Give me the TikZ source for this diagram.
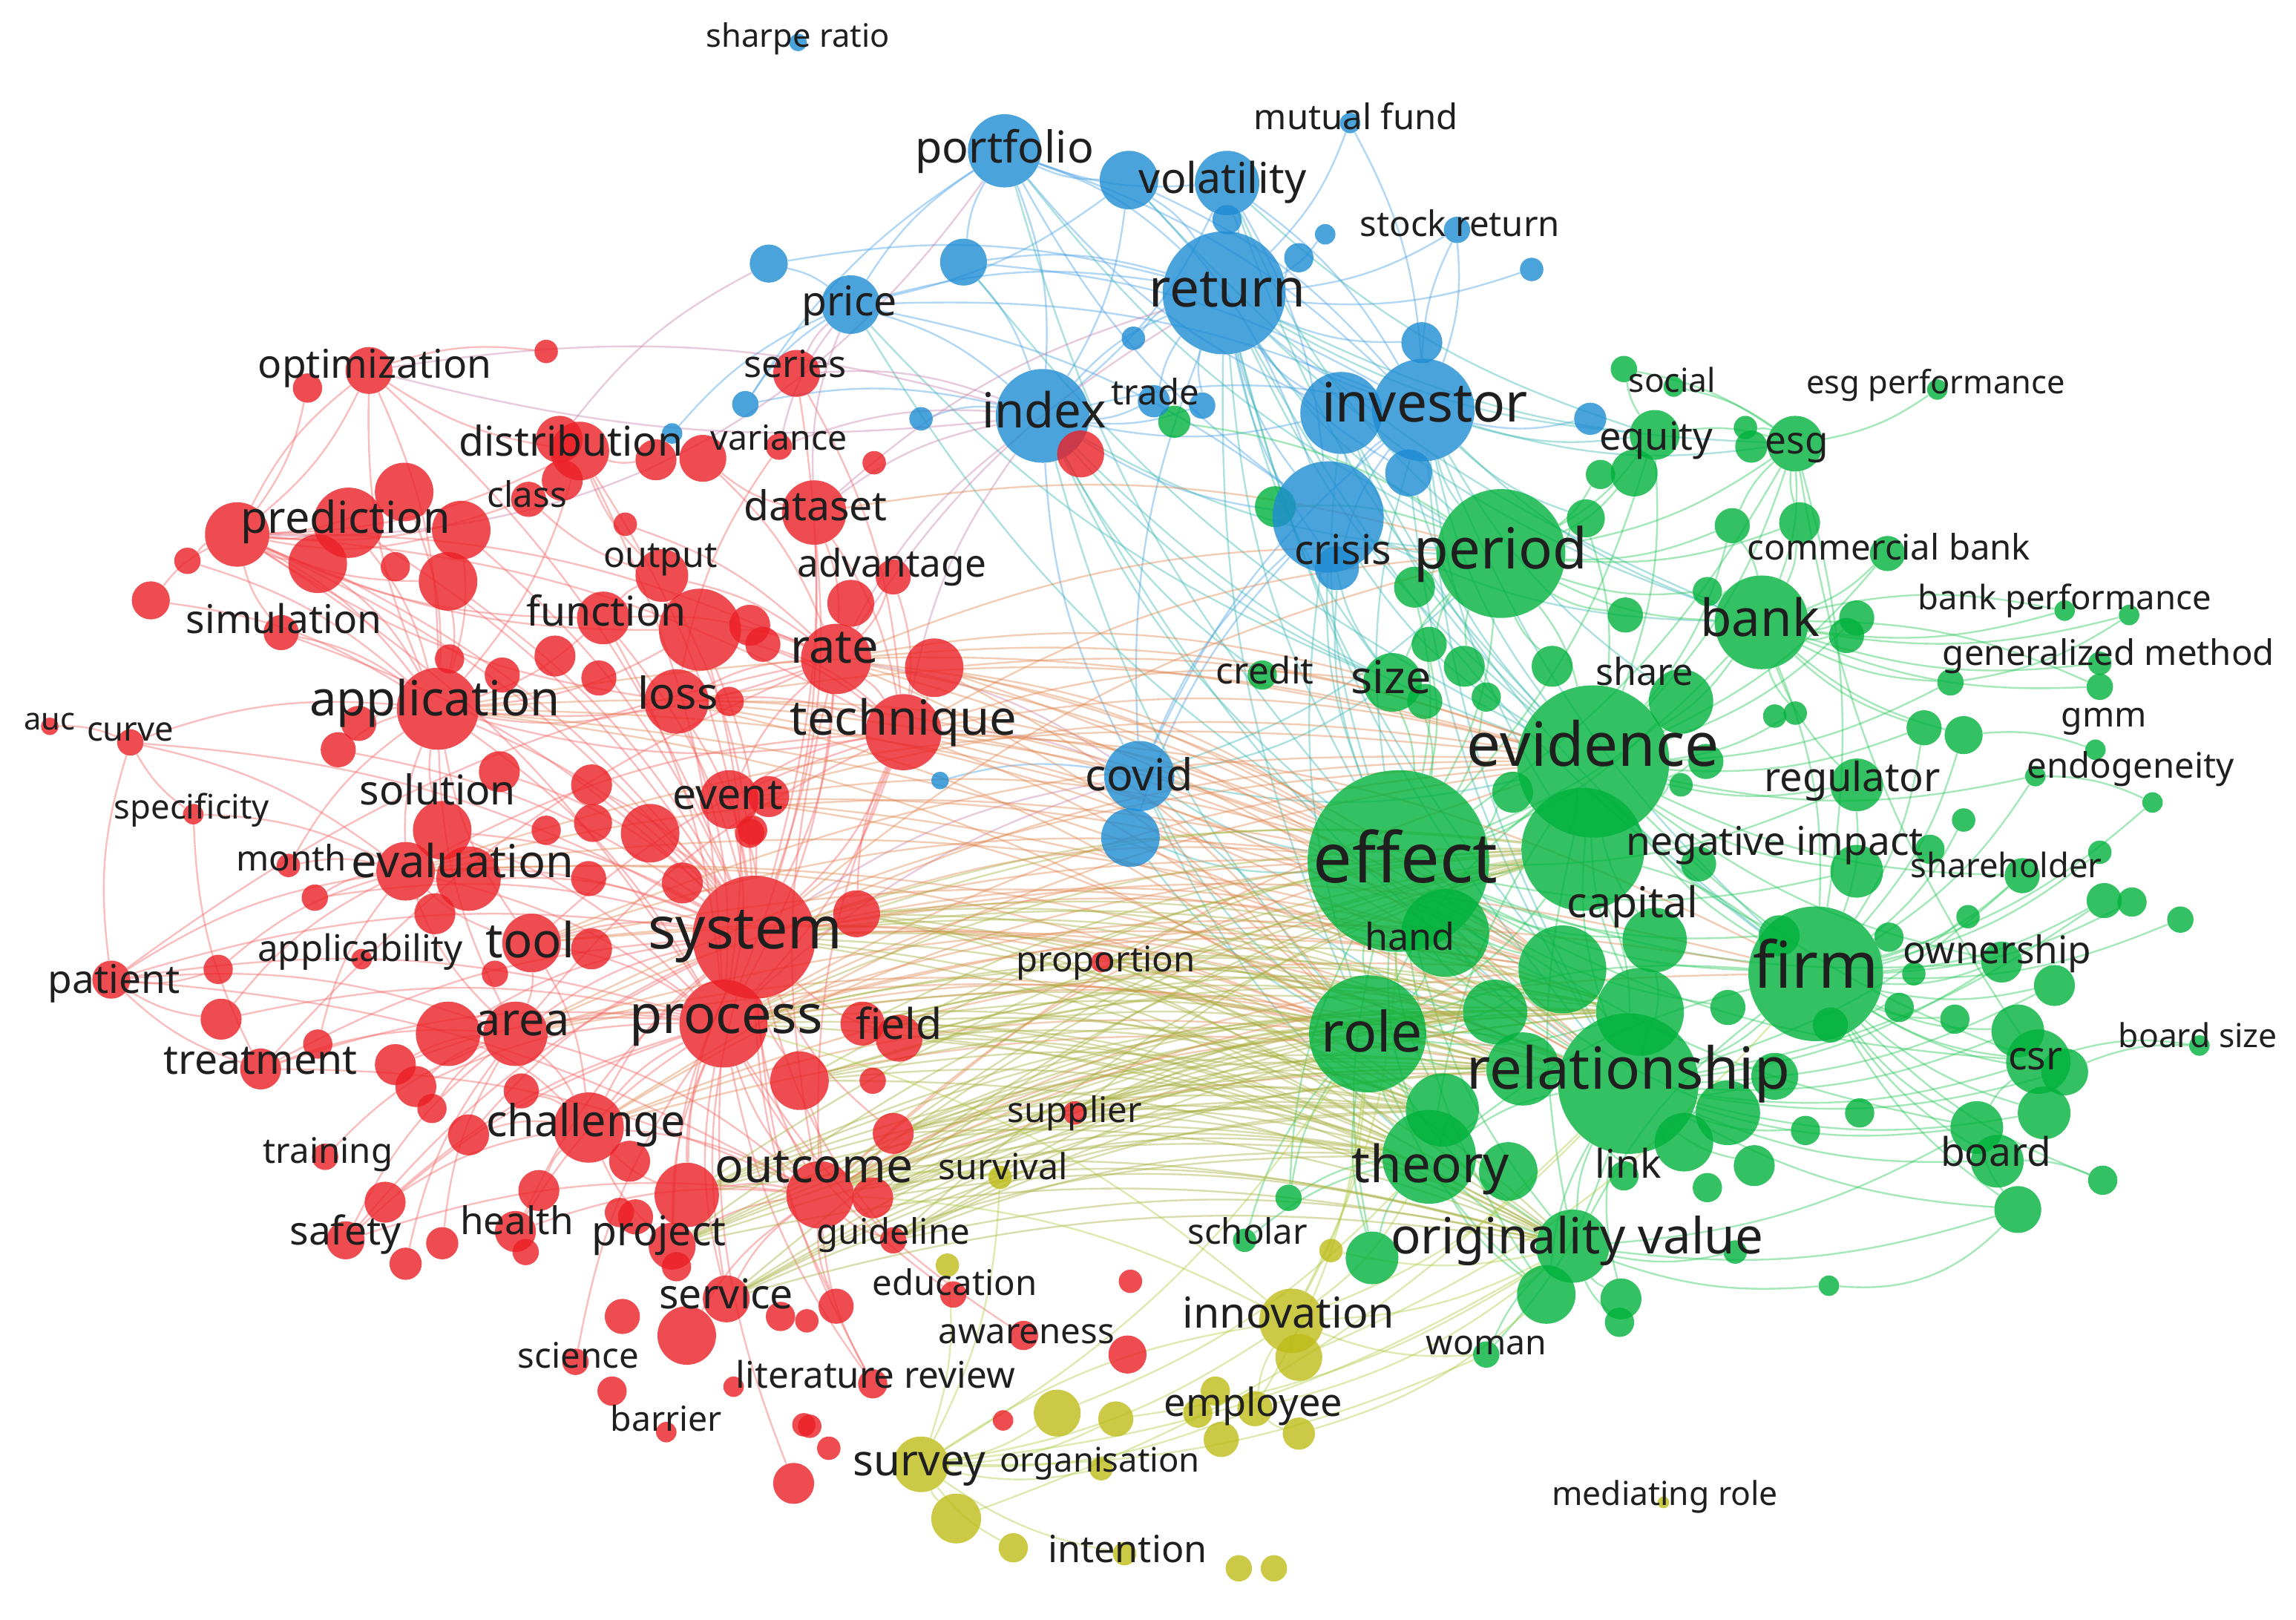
\documentclass[tikz,border=0pt]{standalone}
\usepackage{fontspec}
\setmainfont{Noto Sans}
\pgfdeclarelayer{bg}
\pgfsetlayers{bg,main}
\definecolor{cR}{RGB}{236,32,38}
\definecolor{cB}{RGB}{30,140,212}
\definecolor{cG}{RGB}{0,178,60}
\definecolor{cY}{RGB}{190,188,24}
\definecolor{eRc}{RGB}{245,100,100}
\definecolor{eBc}{RGB}{70,160,230}
\definecolor{eGc}{RGB}{40,200,90}
\definecolor{eOc}{RGB}{225,135,80}
\definecolor{eLc}{RGB}{165,175,60}
\definecolor{eTc}{RGB}{60,185,180}
\definecolor{ePc}{RGB}{200,130,170}
\definecolor{eYc}{RGB}{175,205,70}
\begin{document}
\begin{tikzpicture}[x=1pt,y=-1pt,
  bub/.style={circle,inner sep=0pt,draw=none,fill opacity=0.8,fill=#1},
  lab/.style={anchor=base,yshift=-0.27*#1pt,text=black!88,inner sep=0pt,font=\fontsize{#1}{#1}\selectfont},
  edge/.style={line width=1.2pt,draw opacity=0.42,draw=#1},
  eR/.style={edge=eRc}, eB/.style={edge=eBc}, eG/.style={edge=eGc},
  eO/.style={edge=eOc}, eL/.style={edge=eLc}, eT/.style={edge=eTc},
  eP/.style={edge=ePc}, eY/.style={edge=eYc}]
\path[use as bounding box] (0,0) rectangle (1568,1106);
% ---------------- bubbles ----------------
\foreach \n/\x/\y/\r in {g51/955/588/62, g61/1088/520/52, g73/1112/740/48, g44/1240/665/46, g3/1025/378/44, g62/1081/580/42, g53/934/706/40, g17/1203/425/32, g76/976/790/32, g52/987/637/30, g63/1067/662/30, g66/1120/691/30, g77/985/758/25, g88/1074/851/25, g106/1040/730/25, g64/1130/642/22, g65/1021/691/22, g68/1148/479/22, g45/1392/725/22, g74/1180/760/22, g55/951/466/20, g89/1056/884/20, g107/1150/780/20, g108/1030/800/20, g9/1226/303/19, g32/1268/536/18, g34/1268/595/18, g46/1378/704/18, g78/1350/770/18, g79/1364/793/18, g80/1396/760/18, g95/937/859/18, g6/1130/297/17, g8/1116/323/16, g47/1410/732/16, g75/1212/735/16, g82/1378/826/16, g2/871/346/14, g15/1229/357/14, g42/1367/657/14, g43/1403/673/14, g59/1033/541/14, g60/966/401/14, g71/1215/639/14, g84/1198/796/14, g90/1107/887/14, g98/1060/455/14, g100/1000/455/14, g13/1083/354/13, g27/1341/502/13, g14/1183/359/12, g16/1289/378/12, g18/1268/422/12, g19/1261/434/12, g26/1314/497/12, g36/1381/598/12, g38/1437/615/12, g54/976/440/12, g56/973/479/12, g70/1180/688/12, g99/1110/420/12, g101/1165/520/12, g102/1160/590/12, g105/1250/700/12, g1/802/288/11, g11/1196/305/11, g7/1093/324/10, g20/1166/404/10, g35/1318/580/10, g39/1456/616/10, g48/1335/696/10, g49/1297/688/10, g57/862/461/10, g58/1015/476/10, g81/1436/806/10, g83/1233/772/10, g85/1166/811/10, g91/1106/903/10, g96/1109/803/10, g103/1290/640/10, g104/1270/760/10, g4/1109/252/9, g23/1332/466/9, g24/1434/469/9, g40/1489/628/9, g92/1015/925/9, g94/880/818/9, g10/1192/292/8, g25/1434/453/8, g31/1226/487/8, g33/1341/560/8, g37/1434/582/8, g41/1344/626/8, g67/1148/536/8, g69/1212/489/8, g72/1307/665/8, g86/1185/855/8, g93/850/847/8, g5/1143/264/7, g12/1323/266/7, g21/1410/417/7, g22/1454/420/7, g28/1431/512/7, g29/1390/530/7, g30/1470/548/7, g50/1502/714/7, g87/1249/878/7}
  \node[bub=cG,minimum size=2*\r] (\n) at (\x,\y) {};
\foreach \n/\x/\y/\r in {b1/545/29/6, b2/686/103/25, b3/771/123/20, b4/838/125/22, b5/838/150/10, b6/922/84/7, b7/905/160/7, b8/995/157/9, b9/1046/184/8, b10/887/176/10, b11/525/180/13, b12/658/179/16, b13/581/208/20, b14/836/200/42, b15/774/231/8, b16/509/276/9, b17/629/286/8, b18/712/284/32, b19/788/274/11, b20/821/277/9, b21/972/280/35, b22/916/282/28, b23/971/234/14, b24/962/323/16, b25/907/353/38, b26/913/388/15, b27/459/296/7, b28/1086/286/11, b29/778/530/24, b30/772/572/20, b31/642/533/6}
  \node[bub=cB,minimum size=2*\r] (\n) at (\x,\y) {};
\foreach \n/\x/\y/\r in {r60/515/640/42, r61/494/699/30, r27/299/484/28, r33/478/430/28, r76/617/500/26, r17/238/357/24, r74/571/450/24, r90/402/770/24, r117/560/816/23, r14/556/350/22, r15/162/365/22, r36/462/479/22, r48/320/600/22, r68/306/706/22, r69/352/706/22, r92/469/816/22, r6/396/308/20, r18/276/336/20, r19/315/362/20, r20/217/385/20, r21/306/397/20, r46/302/567/20, r47/277/595/20, r52/444/569/20, r53/498/546/20, r57/363/644/20, r75/638/456/20, r83/546/738/20, r106/469/912/20, r13/452/393/18, r31/412/422/18, r1/252/253/16, r4/544/255/16, r5/382/300/16, r9/480/313/16, r73/581/412/16, r79/585/624/16, r82/614/709/16, r103/459/851/16, r105/496/887/16, r132/738/310/16, r81/589/699/15, r7/384/328/14, r8/448/314/14, r30/379/448/14, r34/512/427/14, r44/341/527/14, r45/404/536/14, r49/297/624/14, r56/466/603/14, r58/404/648/14, r64/151/696/14, r66/178/730/14, r70/270/727/14, r77/525/544/14, r86/284/742/14, r88/320/775/14, r91/430/793/14, r93/368/813/14, r95/352/841/14, r99/263/821/14, r112/542/1013/14, r118/596/818/14, r119/610/774/14, r23/103/410/13, r51/405/562/13, r62/76/669/13, r101/236/847/13, r126/770/925/13, r11/361/341/12, r24/192/432/12, r26/343/461/12, r28/245/494/12, r29/231/512/12, r35/409/463/12, r38/521/440/12, r55/402/600/12, r72/610/394/12, r89/356/745/12, r107/425/899/12, r116/434/831/12, r122/571/892/12, r97/302/849/11, r98/277/863/11, r2/210/265/10, r22/270/387/10, r25/307/450/10, r37/498/479/10, r50/373/567/10, r54/512/569/10, r63/149/662/10, r65/217/713/10, r78/514/567/10, r87/295/757/10, r94/423/828/10, r104/462/865/10, r109/418/950/10, r114/533/899/10, r124/699/912/10, r127/596/945/10, r10/532/305/9, r16/128/383/9, r40/89/507/9, r43/215/613/9, r59/338/665/9, r84/596/738/9, r96/359/855/9, r102/222/790/9, r108/393/930/9, r121/610/847/9, r123/651/884/9, r3/373/240/8, r12/427/358/8, r42/197/591/8, r113/549/973/8, r115/551/902/8, r120/734/760/8, r125/772/875/8, r129/553/974/8, r130/566/989/8, r133/597/316/8, r41/132/556/7, r67/247/655/7, r110/455/978/7, r111/501/947/7, r128/685/970/7, r131/752/657/7, r39/34/496/6}
  \node[bub=cR,minimum size=2*\r] (\n) at (\x,\y) {};
\foreach \n/\x/\y/\r in {y1/909/854/8, y2/882/902/22, y3/887/927/16, y4/647/864/8, y5/683/804/8, y6/830/950/10, y7/857/962/12, y8/818/965/10, y9/834/983/12, y10/887/979/11, y11/722/965/16, y12/762/969/12, y13/629/1000/19, y14/653/1037/17, y15/692/1057/10, y16/768/1061/8, y17/846/1071/9, y18/870/1071/9, y19/752/1003/8, y20/1136/1026/4}
  \node[bub=cY,minimum size=2*\r] (\n) at (\x,\y) {};
% ---------------- links ----------------
\begin{pgfonlayer}{bg}
\fill[white] (0,0) rectangle (1568,1106);
% red cluster
\foreach \q in {r61,r27,r74,r76,r117,r90,r69,r57,r33,r36,r15,r47,r46,r53,r52,r56,r103,r105,r92,r68,r66,r62,r31,r14,r13,r6,r4,r1,r24,r40,r44,r45,r48,r79,r82,r83,r119,r121,r122,r127,r101,r95,r88,r20,r17,r19,r21,r43,r29}
  \draw[eR] (r60) to[bend right=12] (\q);
\foreach \q in {r27,r74,r76,r117,r90,r69,r57,r33,r36,r15,r47,r46,r53,r105,r103,r92,r66,r62,r101,r95,r108,r112,r127,r123,r124,r14,r6,r31,r64,r70,r86,r99}
  \draw[eR] (r61) to[bend right=12] (\q);
\foreach \q in {r15,r17,r18,r19,r20,r21,r24,r31,r33,r36,r74,r76,r46,r47,r57,r69,r1,r6,r23,r16,r28,r29,r42,r40}
  \draw[eR] (r27) to[bend right=12] (\q);
\foreach \q in {r74,r14,r4,r33,r36,r53,r117,r69,r57,r47,r38,r72,r75,r79,r15}
  \draw[eR] (r76) to[bend right=12] (\q);
\foreach \q in {r14,r72,r73,r33,r36,r53,r117,r62,r66,r31,r13,r12,r9,r15}
  \draw[eR] (r74) to[bend right=12] (\q);
\foreach \q in {r90,r69,r92,r103,r105,r66,r62,r101,r95,r119,r118,r121,r122,r127,r106,r83}
  \draw[eR] (r117) to[bend right=12] (\q);
\foreach \q in {r69,r68,r92,r103,r91,r93,r88,r89,r57,r99}
  \draw[eR] (r90) to[bend right=12] (\q);
\foreach \q in {r17,r18,r19,r20,r21,r23,r16,r24,r1,r2,r6,r11,r36,r31,r33}
  \draw[eR] (r15) to[bend right=12] (\q);
\foreach \q in {r48,r46,r57,r69,r62,r63,r64,r65,r42,r43,r41,r40,r49}
  \draw[eR] (r47) to[bend right=12] (\q);
\foreach \q in {r68,r57,r66,r62,r70,r86,r87,r97,r98,r101,r102}
  \draw[eR] (r69) to[bend right=12] (\q);
\foreach \a/\b in {r1/r6,r1/r15,r6/r8,r6/r13,r9/r14,r10/r36,r62/r64,r62/r63,r62/r66,r40/r39,r40/r41,r40/r62,r41/r66,r3/r1,r11/r13,r13/r31,r1/r27}
  \draw[eR] (\a) to[bend right=12] (\b);
% blue cluster
\foreach \q in {b2,b3,b4,b5,b10,b7,b12,b13,b15,b18,b19,b20,b21,b22,b23,b24,b25,b26,b11,b8,b9,b29,b6}
  \draw[eB] (b14) to[bend right=12] (\q);
\foreach \q in {b2,b3,b4,b13,b18,b22,b23,b24,b25,b26,b12,b28,b8,b29,b6}
  \draw[eB] (b21) to[bend right=12] (\q);
\foreach \q in {b2,b3,b4,b13,b12,b22,b25,b19,b20,b29,b16,b17}
  \draw[eB] (b18) to[bend right=12] (\q);
\foreach \a/\b in {b2/b3,b2/b4,b2/b12,b2/b13,b2/b22,b2/b25,b2/b16,b25/b3,b25/b4,b25/b13,b25/b29,b25/b30,b25/b22,b13/b11,b13/b16,b13/b27,b13/b3,b29/b31,b29/b30,b8/b21}
  \draw[eB] (\a) to[bend right=12] (\b);
% blue-green
\foreach \a/\b in {b14/g3,b14/g61,b14/g51,b14/g44,b14/g17,b14/g73,b14/g53,b14/g6,b14/g9,b14/g63,b14/g55,b21/g3,b21/g61,b21/g51,b21/g44,b21/g17,b21/g73,b21/g6,b21/g13,b21/g9,b21/g68,b21/g62,b18/g51,b18/g61,b18/g73,b18/g53,b18/g55,b18/g57,b18/g3,b25/g3,b25/g51,b25/g61,b25/g17,b25/g55,b25/g53,b29/g51,b29/g53,b29/g61,b29/g73,b29/g55,b29/g3,b29/g76,b2/g3,b2/g51,b4/g61,b4/g3,b4/g6,b13/g51,b13/g55,b3/g17,b12/g61,b22/g61,b22/g51,b22/g44,b24/g61,b24/g73,b26/g51,b30/g51,b30/g53}
  \draw[eT] (\a) to[bend right=12] (\b);
% blue-red
\foreach \a/\b in {b18/r14,b18/r74,b18/r76,b18/r4,b18/r10,b13/r4,b13/r14,b13/r10,b14/r74,b14/r14,b29/r76,b29/r60,b29/r61,b29/r74,b11/r5,b18/r1}
  \draw[eP] (\a) to[bend right=12] (\b);
\draw[eP] (r15) to[bend right=28] (b2);
\draw[eP] (r1) to[bend right=10] (b18);
% green cluster
\foreach \q in {g3,g61,g73,g44,g53,g76,g88,g17,g62,g63,g64,g65,g66,g52,g55,g54,g56,g58,g59,g60,g68,g32,g34,g42,g45,g78,g9,g6,g71,g70,g74,g77,g89,g95,g94}
  \draw[eG] (g51) to[bend right=12] (\q);
\foreach \q in {g3,g73,g44,g53,g76,g88,g17,g62,g64,g66,g68,g32,g34,g36,g42,g45,g9,g16,g23,g26,g29,g6,g13,g14,g18,g31,g71,g67,g101}
  \draw[eG] (g61) to[bend right=12] (\q);
\foreach \q in {g44,g53,g76,g88,g62,g63,g64,g66,g42,g45,g46,g47,g78,g79,g80,g82,g36,g43,g38,g74,g75,g83,g84,g89,g90,g106,g107,g96}
  \draw[eG] (g73) to[bend right=12] (\q);
\foreach \q in {g53,g76,g88,g62,g42,g43,g45,g46,g47,g48,g49,g78,g79,g80,g81,g82,g36,g38,g39,g40,g41,g37,g33,g32,g17,g9,g26,g27,g29,g30,g103}
  \draw[eG] (g44) to[bend right=12] (\q);
\foreach \q in {g76,g88,g62,g63,g65,g66,g52,g77,g95,g94,g93,g89,g106}
  \draw[eG] (g53) to[bend right=12] (\q);
\foreach \q in {g17,g6,g9,g13,g14,g15,g20,g54,g55,g60,g2,g1,g8,g7,g98,g99,g100}
  \draw[eG] (g3) to[bend right=12] (\q);
\foreach \q in {g16,g18,g19,g20,g21,g22,g23,g24,g25,g26,g27,g31,g32,g9,g14,g15}
  \draw[eG] (g17) to[bend right=12] (\q);
\foreach \q in {g12,g10,g11,g4,g5,g6,g14,g15,g45}
  \draw[eG] (g9) to[bend right=12] (\q);
\foreach \q in {g88,g77,g93,g94,g95,g89}
  \draw[eG] (g76) to[bend right=12] (\q);
\foreach \q in {g89,g90,g91,g92,g86,g87,g82,g78}
  \draw[eG] (g88) to[bend right=12] (\q);
\foreach \a/\b in {g45/g78,g45/g80,g78/g82,g81/g79,g50/g45,g50/g47,g28/g27,g30/g29,g23/g22,g21/g17,g24/g17,g4/g6,g92/g73}
  \draw[eG] (\a) to[bend right=12] (\b);
\draw[eG] (g87) to[bend right=25] (g82);
% red-green (dense middle band)
\foreach \g in {g51,g53,g73,g61,g63}
  \foreach \q in {r60,r61,r117,r76,r74,r90,r69,r57,r27,r47,r36,r53,r75}
    \draw[eO] (\g) to[bend right=12] (\q);
\foreach \g in {g76,g88,g62,g65,g66,g106,g77}
  \foreach \q in {r60,r61,r117,r82,r81,r83,r79,r119,r118,r92,r103,r105,r121,r120,r131}
    \draw[eL] (\g) to[bend right=12] (\q);
\foreach \a/\b in {g44/r60,g44/r61,g44/r117,g44/r76,g3/r74,g3/r76,g3/r14,g3/r60,g52/r60,g52/r61,g55/r74,g55/r76}
  \draw[eO] (\a) to[bend right=12] (\b);
% yellow
\foreach \a/\b in {y2/g51,y2/g53,y2/g73,y2/g88,y2/g76,y2/g92,y2/y7,y2/y13,y2/y3,y2/r61,y2/r117,y13/y14,y13/y15,y13/y11,y13/y12,y13/y7,y13/y2,y13/y19,y13/y5,y13/y4,y13/g88,y13/g53,y13/g92,y5/r117,y7/g88,y7/g53,y7/y10,y13/y16,y11/g76,y1/g88,y3/g44,y14/g73,y12/g88,y10/g89}
  \draw[eY] (\a) to[bend right=12] (\b);
\end{pgfonlayer}
% ---------------- labels ----------------
\foreach \x/\y/\fz/\tx [count=\i] in {545/26/22/sharpe ratio, 686/103/30/portfolio, 835/124/29/volatility, 926/82/24/mutual fund, 997/155/24/stock return, 838/200/36/return, 580/208/28/price, 713/283/33/index, 789/270/24/trade, 973/278/37/investor, 917/378/28/crisis, 778/532/30/covid, 543/251/25.5/series, 256/251/27/optimization, 390/304/28/distribution, 532/301/23.5/variance, 360/340/24/class, 557/348/28/dataset, 236/356/30/prediction, 451/381/24.5/output, 609/387/26/advantage, 194/425/27/simulation, 414/420/28/function, 570/444/32/rate, 297/480/33/application, 463/476/30/loss, 617/493/33/technique, 34/493/21/auc, 89/500/23/curve, 131/553/23/specificity, 299/542/28/solution, 497/545/29/event, 199/588/24/month, 316/591/31/evaluation, 246/650/25/applicability, 362/645/33/tool, 509/637/40/system, 78/671/27/patient, 755/657/24/proportion, 357/699/31/area, 496/696/36.5/process, 614/702/29/field, 178/726/28/treatment, 400/768/30/challenge, 734/760/24/supplier, 224/788/24/training, 556/799/32.5/outcome, 685/799/24.5/survival, 236/843/27/safety, 353/836/26/health, 450/843/28/project, 610/843/24/guideline, 496/886/28/service, 652/878/24/education, 701/911/24/awareness, 395/928/24/science, 598/941/25/literature review, 455/971/23.5/barrier, 880/899/29/innovation, 1015/919/23.5/woman, 856/960/26.5/employee, 628/1000/29.5/survey, 751/999/23/organisation, 770/1060/25.5/intention, 1137/1022/22.5/mediating role, 1142/262/22.5/social, 1322/263/22/esg performance, 1131/300/26.5/equity, 1227/303/26/esg, 1025/378/38.5/period, 1290/376/24/commercial bank, 1410/410/23/bank performance, 1202/425/35/bank, 1440/448/24/generalized method, 1437/490/23.5/gmm, 1455/525/24/endogeneity, 1265/533/27.5/regulator, 864/460/25/credit, 950/465/31/size, 1123/461/25.5/share, 1088/512/41.5/evidence, 960/590/47.5/effect, 1212/577/27/negative impact, 1370/593/23/shareholder, 1115/619/29/capital, 963/642/25.5/hand, 1240/663/44/firm, 1364/651/26/ownership, 937/708/38/role, 1112/733/39.5/relationship, 1501/709/22.5/board size, 1390/723/27/csr, 977/798/35/theory, 1112/797/27/link, 1363/789/27/board, 852/843/24/scholar, 1077/847/34/originality value}
  \node[lab=\fz] (L\i) at (\x,\y) {\tx};
\end{tikzpicture}
\end{document}
